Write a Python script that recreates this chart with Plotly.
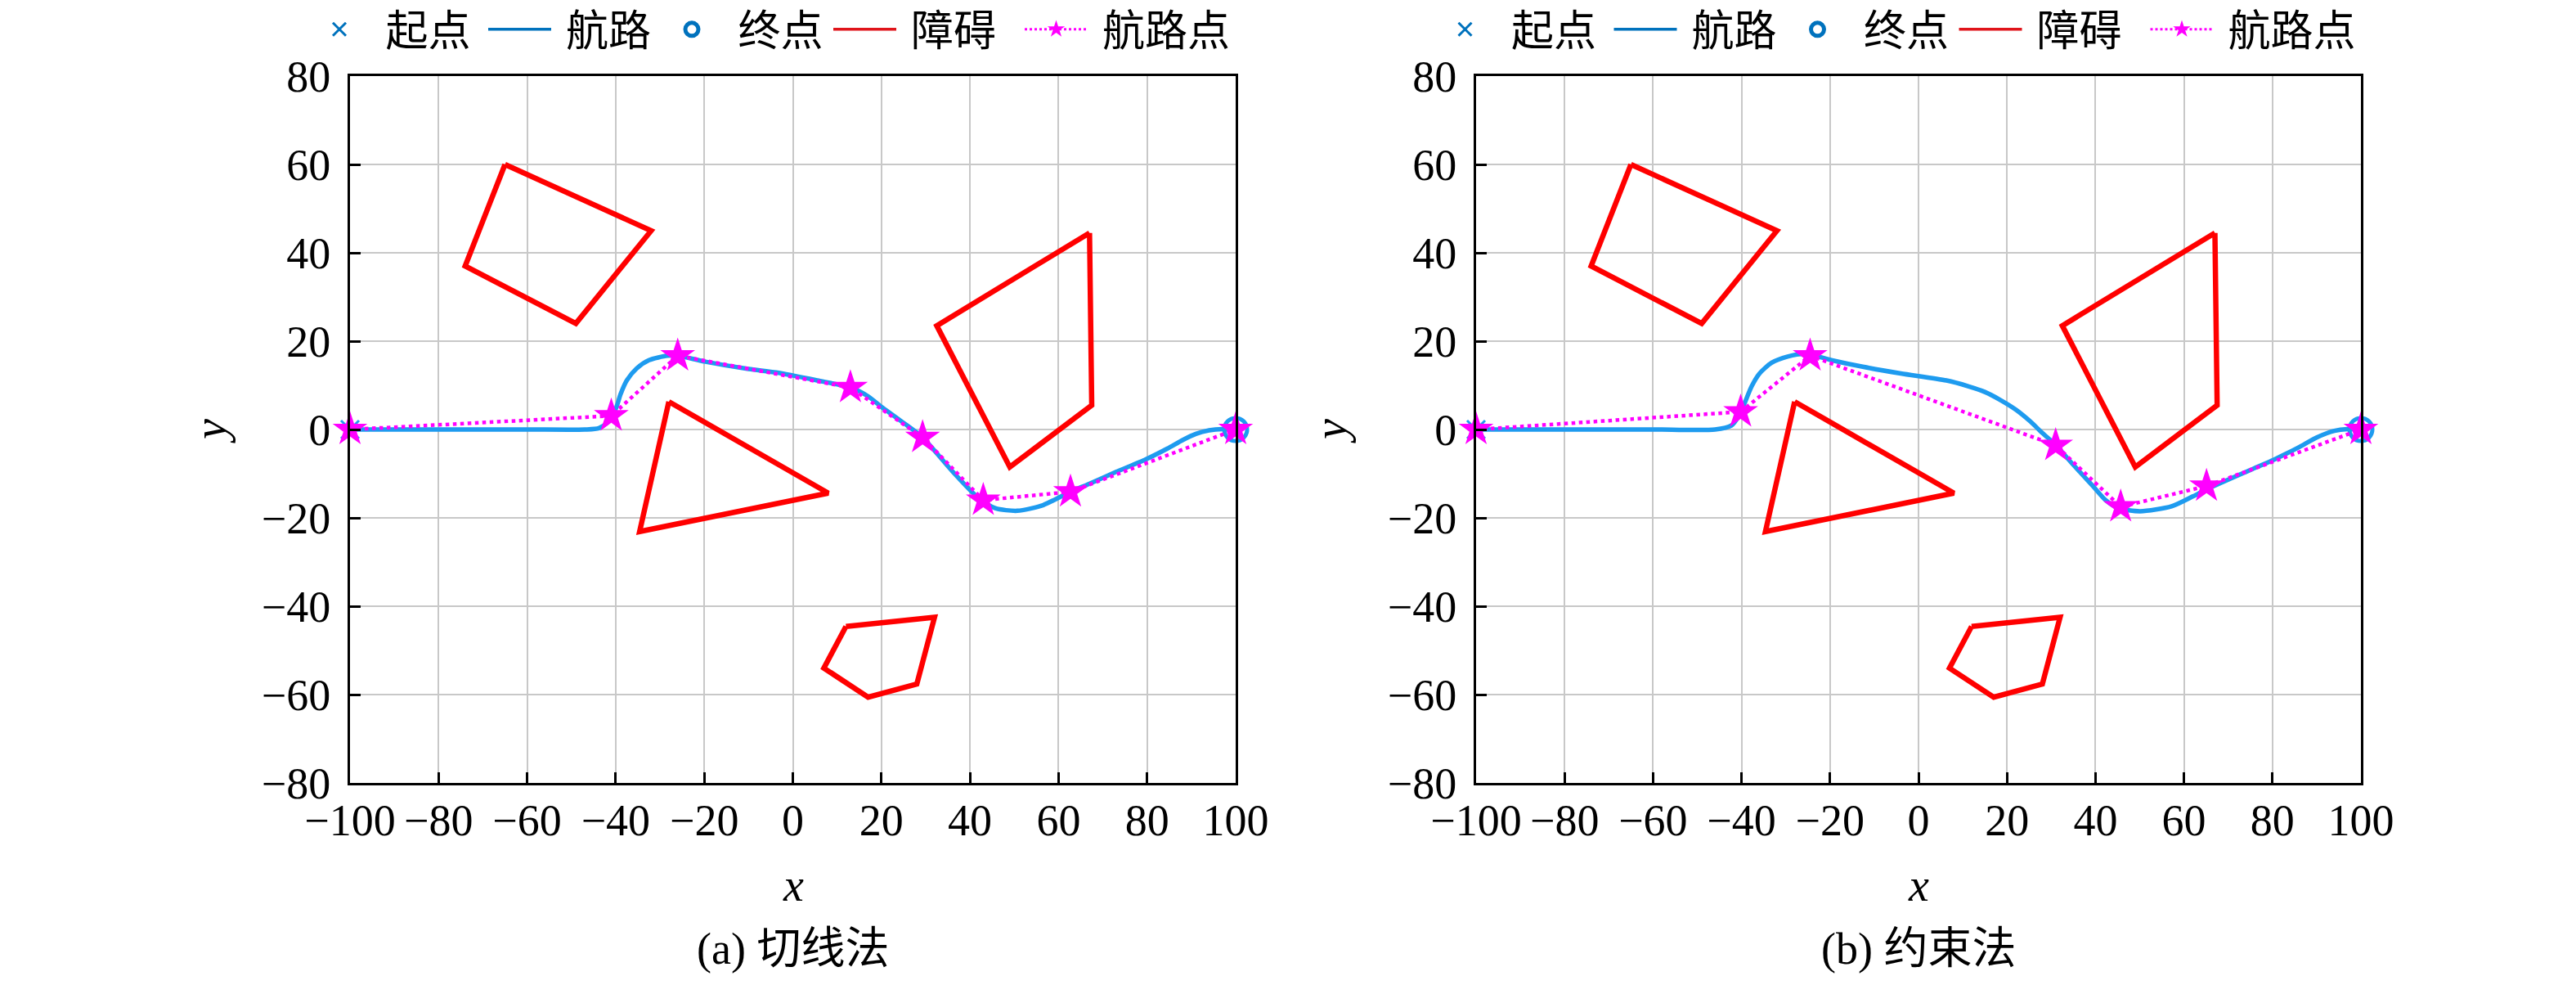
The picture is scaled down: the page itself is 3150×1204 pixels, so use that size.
import plotly.graph_objects as go

FONT = "Liberation Serif, Noto Sans CJK SC"

# obstacles (same in both panels), closed polygons
obs1_x = [-65, -32, -49, -74, -65]
obs1_y = [60, 45, 24, 37, 60]
obs2_x = [67, 67.5, 49, 32.5, 67]
obs2_y = [44.5, 5.5, -8.5, 23.5, 44.5]
obs3_x = [-28, 8, -34.6, -28]
obs3_y = [6.3, -14.4, -23.1, 6.3]
obs4_x = [12, 32, 28, 17, 7, 12]
obs4_y = [-44.6, -42.5, -57.6, -60.6, -54, -44.6]

# (a) tangent method
wp_a_x = [-100, -41, -26, 13, 29.3, 43, 62.7, 100]
wp_a_y = [0, 3.1, 16.7, 9.5, -1.8, -16, -14.1, 0]
path_a_x = [-100, -80, -60, -47, -43.8, -41.7, -39.9, -38.9, -37.5, -35.3, -32.5, -28.3, -26,
            -20, -10, -3.75, 5.5, 13, 17, 20.3, 25, 29.3, 35.8, 41.5, 45.7, 50.7, 56.3, 62.7,
            66.9, 73, 79.7, 84.6, 88, 91, 94, 97, 100]
path_a_y = [0, 0, 0, 0, 0.3, 1.8, 4.9, 8.0, 11.1, 13.8, 15.7, 16.7, 16.7,
            15.4, 13.7, 12.9, 11.1, 9.5, 7.5, 4.9, 1.5, -1.8, -9.2, -15.1, -17.8, -18.4, -17.2, -14.1,
            -12.3, -9.6, -6.75, -4.3, -2.4, -1.0, -0.2, 0.1, 0]

# (b) constraint method
wp_b_x = [-100, -40.2, -24.5, 31, 45.7, 65.1, 100]
wp_b_y = [0, 4, 16.7, -3.6, -17.5, -12.8, 0]
path_b_x = [-100, -80, -60, -46, -42.3, -40.6, -39.5, -37.7, -36, -33.2, -29.6, -25.4, -19.7,
            -12.6, -4, 6.3, 11.2, 15, 18.3, 22, 25.3, 28, 31, 35, 39.5, 42.3, 45.2, 50.1, 57.2,
            62.1, 65, 74.9, 80.5, 86, 90, 94, 97, 100]
path_b_y = [0, 0, 0, 0, 0.9, 3.1, 5.5, 9.8, 12.6, 15.1, 16.5, 17.1, 15.7,
            14.2, 12.7, 11.1, 9.8, 8.5, 6.8, 4.5, 1.8, -0.8, -3.5, -8, -12.9, -16, -17.8, -18.5, -17.4,
            -15.1, -13.6, -9.2, -6.75, -4.0, -1.8, -0.3, 0.1, 0]

captions = ["(a) 切线法", "(b) 约束法"]
names = ["起点", "航路", "终点", "障碍", "航路点"]

PATH_BLUE = "#1e9bef"
LEG_BLUE = "#0072bd"
RED = "#ff0000"
LEG_RED = "#e0141a"
MAGENTA = "#ff00ff"

W, H = 3134, 1188          # figure size (page body adds 8px margin)
ITEMW = 77
leg_x0 = [371.5, 592, 802.5, 1014, 1248]   # legend item origins, left panel (page px)
PANEL_SHIFT = 1376.5

fig = go.Figure()

obs_x, obs_y = [], []
for ox, oy in [(obs1_x, obs1_y), (obs2_x, obs2_y), (obs3_x, obs3_y), (obs4_x, obs4_y)]:
    obs_x += ox + [None]
    obs_y += oy + [None]

legend_layout = {}
panels = [(path_a_x, path_a_y, wp_a_x, wp_a_y), (path_b_x, path_b_y, wp_b_x, wp_b_y)]
for i, (px_, py_, wx, wy) in enumerate(panels):
    xa = "x" if i == 0 else "x2"
    ya = "y" if i == 0 else "y2"
    # plotted marks
    fig.add_trace(go.Scatter(x=[wx[0]], y=[wy[0]], mode="markers", xaxis=xa, yaxis=ya,
                             marker=dict(symbol="x-thin", size=22, color=PATH_BLUE,
                                         line=dict(width=3, color=PATH_BLUE)),
                             showlegend=False, cliponaxis=False))
    fig.add_trace(go.Scatter(x=px_, y=py_, mode="lines", xaxis=xa, yaxis=ya,
                             line=dict(color=PATH_BLUE, width=5.5, shape="spline", smoothing=0.7),
                             showlegend=False))
    fig.add_trace(go.Scatter(x=[wx[-1]], y=[wy[-1]], mode="markers", xaxis=xa, yaxis=ya,
                             marker=dict(symbol="circle-open", size=28, color=PATH_BLUE,
                                         line=dict(width=5, color=PATH_BLUE)),
                             showlegend=False, cliponaxis=False))
    fig.add_trace(go.Scatter(x=obs_x, y=obs_y, mode="lines", xaxis=xa, yaxis=ya,
                             line=dict(color=RED, width=6.5), showlegend=False))
    fig.add_trace(go.Scatter(x=wx, y=wy, mode="lines+markers", xaxis=xa, yaxis=ya,
                             line=dict(color=MAGENTA, width=4.5, dash="dot"),
                             marker=dict(symbol="star", size=32, color=MAGENTA),
                             showlegend=False, cliponaxis=False))

    # legend entries, one legend per entry so each can be placed
    leg_traces = [
        dict(mode="markers", marker=dict(symbol="x-thin", size=16, color=LEG_BLUE,
                                         line=dict(width=3, color=LEG_BLUE))),
        dict(mode="lines", line=dict(color=LEG_BLUE, width=3.5)),
        dict(mode="markers", marker=dict(symbol="circle-open", size=16, color=LEG_BLUE,
                                         line=dict(width=5, color=LEG_BLUE))),
        dict(mode="lines", line=dict(color=LEG_RED, width=3.5)),
        dict(mode="lines+markers", line=dict(color=MAGENTA, width=3, dash="dot"),
             marker=dict(symbol="star", size=16, color=MAGENTA)),
    ]
    for j, kw in enumerate(leg_traces):
        k = i * 5 + j + 1
        lid = "legend" if k == 1 else "legend%d" % k
        fig.add_trace(go.Scatter(x=[None], y=[None], name="\u00a0" + names[j], legend=lid,
                                 xaxis=xa, yaxis=ya, **kw))
        legend_layout[lid] = dict(
            x=(leg_x0[j] + i * PANEL_SHIFT - 8) / W, xanchor="left",
            y=1 - 28 / H, yanchor="middle", orientation="h",
            font=dict(family=FONT, size=52, color="black"),
            bgcolor="rgba(0,0,0,0)", borderwidth=0, itemwidth=ITEMW)

axis_common = dict(showline=True, linecolor="black", linewidth=3, mirror=True,
                   ticks="inside", ticklen=13, tickwidth=3, tickcolor="black",
                   showgrid=True, gridcolor="#c8c8c8", gridwidth=1.5, zeroline=False,
                   tickfont=dict(family=FONT, size=54, color="black"))
xticks = list(range(-100, 101, 20))
yticks = list(range(-80, 81, 20))

xdom = [[420 / W, 1503 / W], [1797 / W, 2879 / W]]
ydom = [1 - 949 / H, 1 - 85 / H]

fig.update_layout(
    width=W, height=H, margin=dict(l=0, r=0, t=0, b=0, autoexpand=False),
    paper_bgcolor="white", plot_bgcolor="white",
    font=dict(family=FONT, size=54, color="black"),
    xaxis=dict(domain=xdom[0], range=[-100, 100], tickvals=xticks, anchor="y",
               ticklabelstandoff=-4, **axis_common),
    yaxis=dict(domain=ydom, range=[-80, 80], tickvals=yticks, anchor="x",
               ticklabelstandoff=10, **axis_common),
    xaxis2=dict(domain=xdom[1], range=[-100, 100], tickvals=xticks, anchor="y2",
                ticklabelstandoff=-4, **axis_common),
    yaxis2=dict(domain=ydom, range=[-80, 80], tickvals=yticks, anchor="x2",
                ticklabelstandoff=10, **axis_common),
    **legend_layout,
)

ann = []
for i in range(2):
    xr = "x" if i == 0 else "x2"
    ann.append(dict(text="<i>x</i>", xref=xr, x=0, yref="paper", y=1 - 1074 / H,
                    xanchor="center", yanchor="middle",
                    showarrow=False, font=dict(family=FONT, size=56)))
    ann.append(dict(text=captions[i], xref=xr, x=0, yref="paper", y=1 - 1152 / H,
                    xanchor="center", yanchor="middle",
                    showarrow=False, font=dict(family=FONT, size=54)))
for xp in [249, 1619]:
    ann.append(dict(text="<i>y</i>", xref="paper", x=xp / W, yref="paper", y=1 - 519 / H,
                    xanchor="center", yanchor="middle",
                    textangle=-90, showarrow=False, font=dict(family=FONT, size=56)))
fig.update_layout(annotations=ann)

fig.write_html("out.html")
